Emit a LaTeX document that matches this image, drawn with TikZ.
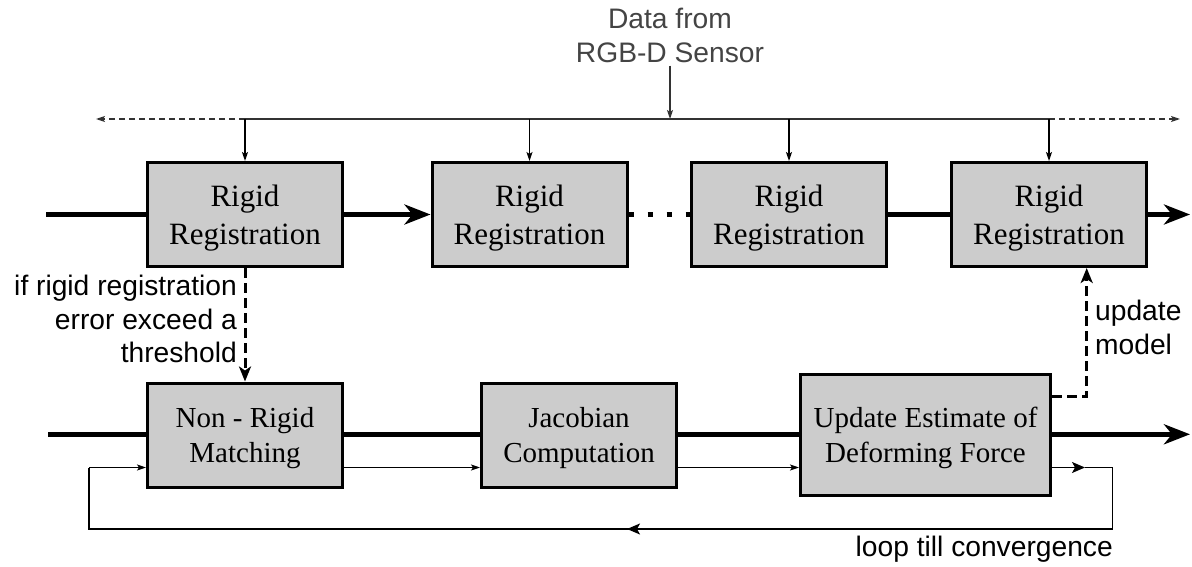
\documentclass[tikz,border=0pt]{standalone}
\usepackage{fontspec}
\setmainfont{Liberation Serif}
\newfontfamily\sansfnt{Liberation Sans}
\usetikzlibrary{arrows.meta}
\definecolor{boxgray}{HTML}{CCCCCC}
\definecolor{busgray}{HTML}{333333}
\definecolor{txtgray}{HTML}{444444}
\begin{document}
\begin{tikzpicture}[x=1pt,y=-1pt,
  box/.style={draw=black, line width=3pt, fill=boxgray, minimum width=195pt, minimum height=104pt,
    inner sep=0pt, align=center, text depth=0pt, font=\fontsize{29}{35}\selectfont},
  rigidbox/.style={box, font=\fontsize{31}{37.5}\selectfont},
  sanstxt/.style={inner sep=0pt, font=\sansfnt\fontsize{28.2}{33.5}\selectfont},
  thickln/.style={line width=5pt},
  bigtip/.style={-{Stealth[length=26pt,width=20pt,inset=8pt]}},
  thinln/.style={line width=1.4pt},
  smalltip/.style={-{Stealth[length=9pt,width=6pt,inset=2pt]}},
  midtip/.style={-{Stealth[length=13pt,width=11pt,inset=3pt]}},
  dline/.style={line width=3pt, dash pattern=on 10pt off 5pt, -{Stealth[length=15pt,width=12pt,inset=4pt]}},
]
\useasboundingbox (0,0) rectangle (1192,567);

% boxes
\node[rigidbox] (r1) at (245,214.5) {Rigid\\Registration};
\node[rigidbox] (r2) at (529.5,214.5) {Rigid\\Registration};
\node[rigidbox] (r3) at (789,214.5) {Rigid\\Registration};
\node[rigidbox] (r4) at (1049,214.5) {Rigid\\Registration};
\node[box] (n1) at (245,435) {Non - Rigid\\Matching};
\node[box] (j1) at (579,435) {Jacobian\\Computation};
\node[box, minimum width=250pt, minimum height=121pt] (u1) at (925.5,435) {Update Estimate of\\Deforming Force};

% sensor and bus
\node[sanstxt, text=txtgray, align=center, anchor=north] (src) at (670,8) {Data from\\RGB-D Sensor};
\coordinate (bus) at (670,119);
\coordinate (bl) at (96,119);
\coordinate (br) at (1180,119);
\draw[thinln, busgray, smalltip, shorten <=3pt] (src.south) -- (bus);
\draw[thinln, busgray] (r1.north |- bus) -- (r4.north |- bus);
\draw[thinln, busgray, dash pattern=on 6pt off 4pt, smalltip] (r1.north |- bus) -- (bl);
\draw[thinln, busgray, dash pattern=on 6pt off 4pt, smalltip] (r4.north |- bus) -- (br);
\foreach \b in {r1,r2,r3,r4} {
  \draw[thinln, smalltip] (\b.north |- bus) -- (\b.north);
}

% row 1 thick line
\coordinate (in1) at (46,214.5);
\coordinate (out1) at (1190,214.5);
\draw[thickln] (in1) -- (r1.west);
\draw[thickln, bigtip] (r1.east) -- (r2.west);
\draw[line width=5pt, dash pattern=on 5pt off 14pt] (r2.east) -- (r3.west);
\draw[thickln] (r3.east) -- (r4.west);
\draw[thickln, bigtip] (r4.east) -- (out1);

% row 2 thick line
\coordinate (in2) at (48,434.3);
\coordinate (out2) at (1190,434.3);
\draw[thickln] (in2) -- (n1.west |- in2);
\draw[thickln] (n1.east |- in2) -- (j1.west |- in2);
\draw[thickln] (j1.east |- in2) -- (u1.west |- in2);
\draw[thickln, bigtip] (u1.east |- in2) -- (out2);

% loop
\coordinate (ly) at (0,467.5);
\coordinate (lm) at (1085,467.5);
\coordinate (c1) at (1112.7,467.5);
\coordinate (c2) at (1112.7,529);
\coordinate (cm) at (627,529);
\coordinate (c3) at (89,529);
\coordinate (c4) at (89,467.5);
\draw[thinln, smalltip] (n1.east |- ly) -- (j1.west |- ly);
\draw[thinln, smalltip] (j1.east |- ly) -- (u1.west |- ly);
\draw[thinln, midtip] (u1.east |- ly) -- (lm);
\draw[thinln] (lm) -- (c1) -- (c2) -- (cm);
\draw[thinln, midtip] (c2) -- (cm);
\draw[thinln] (cm) -- (c3) -- (c4);
\draw[thinln, smalltip] (c4) -- (n1.west |- ly);

% dashed arrows
\draw[dline] (r1.south) -- (n1.north);
\coordinate (d1) at (1086.7,396);
\draw[dline] (u1.east |- d1) -- (d1) -- (d1 |- r4.south);

% labels
\node[sanstxt, align=right, anchor=north east] (cond) at (237,275) {if rigid registration\\error exceed a\\threshold};
\node[sanstxt, align=left, anchor=north west] (upd) at (1095,300) {update\\model};
\node[sanstxt, anchor=base east] (loop) at (1113,556.7) {loop till convergence};
\end{tikzpicture}
\end{document}
